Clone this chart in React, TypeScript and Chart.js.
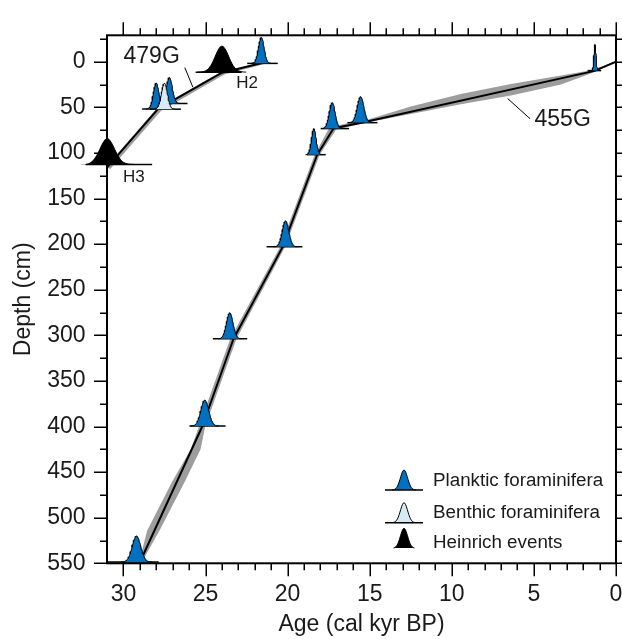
import React, { useEffect, useRef } from "react";
import { Chart, registerables } from "chart.js";

Chart.register(...registerables);

// ---------- axes ----------
const AGE_MIN = 0;
const AGE_MAX = 31;
const DEPTH_MIN = -29;
const DEPTH_MAX = 550;
const ageTicks = [0, 5, 10, 15, 20, 25, 30];
const depthTicks = [0, 50, 100, 150, 200, 250, 300, 350, 400, 450, 500, 550];
const ageMinorStep = 1;
const depthMinorStep = 25;

// ---------- core 455G age model ----------
const core455Age = [0, 1.3, 15.5, 17.2, 18.2, 20.3, 23.3, 25.2, 28.9];
const core455Depth = [0, 10, 67, 73, 102, 203, 304, 400, 545];
// uncertainty envelope (older side, top to bottom)
const band455OldAge = [0, 1.5, 3.35, 6.4, 9.45, 12.5, 15.1, 16.5, 17.45, 18.35, 20.45, 23.5, 25.4, 25.9, 27.05, 28.55, 29.0];
const band455OldDepth = [-0.5, 9.3, 15, 24.5, 35.5, 49, 63.3, 68, 72, 102, 203, 304, 400, 425, 461, 514, 545];
// uncertainty envelope (younger side, top to bottom)
const band455YoungAge = [0, 1.5, 3.35, 6.4, 9.45, 12.5, 15.1, 17.05, 18.05, 20.15, 23.12, 25.02, 25.3, 26.28, 27.8, 28.8];
const band455YoungDepth = [0.8, 12.5, 25, 37, 46.5, 57.4, 66.4, 74.5, 102, 203, 304, 400, 425, 461, 514, 546];

// ---------- core 479G age model ----------
const core479Age = [21.5, 24.0, 27.9, 31.0];
const core479Depth = [1, 12, 52, 116];
const band479OldAge = [21.5, 24.05, 27.97, 31.05];
const band479OldDepth = [0.3, 11.2, 51, 115.5];
const band479YoungAge = [21.4, 23.85, 27.72, 30.8];
const band479YoungDepth = [2.4, 14, 54, 117.5];

// ---------- calibrated dates (P planktic, B benthic, H Heinrich) ----------
const dateType = ["P", "H", "P", "P", "B", "H", "P", "P", "P", "P", "P", "P", "P", "P"];
const dateAge = [21.6, 24.0, 27.2, 28.0, 27.5, 31.0, 1.28, 15.55, 17.28, 18.4, 20.12, 23.52, 25.04, 29.2];
const dateDepth = [1.8, 11.4, 45.7, 51.8, 52, 112.6, 9.7, 66.8, 73.3, 101.9, 203, 303.8, 399.5, 548.6];
const dateSigma = [0.17, 0.41, 0.18, 0.17, 0.18, 0.45, 0.06, 0.2, 0.18, 0.14, 0.2, 0.2, 0.24, 0.26];
const dateBaseFrom = [22.46, 25.6, 28.1, 28.86, 28.4, 32.3, 1.73, 16.36, 17.99, 18.84, 21.28, 24.55, 25.98, 31.0];
const dateBaseTo = [20.6, 22.8, 26.1, 27.1, 26.5, 28.25, 0.9, 14.53, 16.26, 17.68, 19.1, 22.46, 23.78, 27.85];

// ---------- annotations ----------
const labelText = ["479G", "455G", "H2", "H3"];
const labelAge = [28.28, 3.25, 22.47, 29.37];
const labelDepth = [-5.7, 63.9, 23.4, 126.3];
const leaderAgeFrom = [26.26, 6.6];
const leaderDepthFrom = [6.4, 40.4];
const leaderAgeTo = [25.77, 5.23];
const leaderDepthTo = [27.9, 62.5];

const legendLabels = ["Planktic foraminifera", "Benthic foraminifera", "Heinrich events"];
const legendTypes = ["P", "B", "H"];

// ---------- styles ----------
const FONT = "'Liberation Sans', Arial, Helvetica, sans-serif";
const TEXT = "#1a1a1a";
const FILLS: Record<string, string> = { P: "#0070c0", B: "#d5ecf6", H: "#000000" };
const BAND = "#9d9d9d";
const BELL_H = 28.5; // glyph height in depth units
const BIG = 23;

const pts = (a: number[], d: number[]) => a.map((v, i) => ({ x: v, y: d[i] }));

function bell(age: number, depth: number, sigma: number) {
  const out: { x: number; y: number }[] = [];
  const n = 48;
  for (let k = 0; k <= n; k++) {
    const u = -3.6 + (7.2 * k) / n;
    out.push({ x: age + u * sigma, y: depth - BELL_H * Math.exp(-0.5 * u * u) });
  }
  return out;
}

const shapeFillPlugin = {
  id: "shapeFill",
  beforeDatasetDraw(chart: any, args: any) {
    const ds = chart.data.datasets[args.index];
    if (!ds.shapeFill) return;
    const p = args.meta.data;
    const ctx = chart.ctx;
    ctx.save();
    if (ds.clip !== false) {
      const a = chart.chartArea;
      ctx.beginPath();
      ctx.rect(a.left, a.top, a.right - a.left, a.bottom - a.top);
      ctx.clip();
    }
    ctx.beginPath();
    p.forEach((e: any, i: number) => (i ? ctx.lineTo(e.x, e.y) : ctx.moveTo(e.x, e.y)));
    ctx.closePath();
    ctx.fillStyle = ds.shapeFill;
    ctx.fill();
    ctx.restore();
  },
};

function glyphPath(ctx: CanvasRenderingContext2D, type: string, cx: number, by: number) {
  const h = 20;
  const s = 3.6;
  const lim = type === "H" ? 2.9 : 3.4;
  const n = 30;
  ctx.beginPath();
  for (let k = 0; k <= n; k++) {
    const u = -lim + (2 * lim * k) / n;
    const x = cx + u * s;
    const y = by - h * Math.exp(-0.5 * u * u);
    k ? ctx.lineTo(x, y) : ctx.moveTo(x, y);
  }
}

function drawGlyph(ctx: CanvasRenderingContext2D, type: string, cx: number, by: number) {
  glyphPath(ctx, type, cx, by);
  ctx.closePath();
  ctx.fillStyle = FILLS[type];
  ctx.fill();
  glyphPath(ctx, type, cx, by);
  ctx.strokeStyle = "#000";
  ctx.lineWidth = 1;
  ctx.stroke();
  if (type !== "H") {
    ctx.beginPath();
    ctx.moveTo(cx - 19, by);
    ctx.lineTo(cx + 19, by);
    ctx.lineWidth = 1.5;
    ctx.stroke();
  }
}

const decorPlugin = {
  id: "decor",
  afterDatasetsDraw(chart: any) {
    const { ctx, scales } = chart;
    const x = scales.x;
    const y = scales.y;
    ctx.save();
    ctx.strokeStyle = "#000";
    ctx.lineWidth = 1;
    leaderAgeFrom.forEach((_, i) => {
      ctx.beginPath();
      ctx.moveTo(x.getPixelForValue(leaderAgeFrom[i]), y.getPixelForValue(leaderDepthFrom[i]));
      ctx.lineTo(x.getPixelForValue(leaderAgeTo[i]), y.getPixelForValue(leaderDepthTo[i]));
      ctx.stroke();
    });
    ctx.fillStyle = TEXT;
    ctx.textAlign = "center";
    ctx.textBaseline = "middle";
    labelText.forEach((t, i) => {
      ctx.font = `${t.startsWith("H") ? 17 : BIG}px ${FONT}`;
      ctx.fillText(t, x.getPixelForValue(labelAge[i]), y.getPixelForValue(labelDepth[i]));
    });
    ctx.restore();
  },
  afterDraw(chart: any) {
    const { ctx, chartArea: a, scales } = chart;
    const x = scales.x;
    const y = scales.y;
    ctx.save();
    ctx.strokeStyle = "#000";
    ctx.lineWidth = 1.5;
    ctx.beginPath();
    for (let v = AGE_MIN; v < AGE_MAX; v += ageMinorStep) {
      const px = Math.round(x.getPixelForValue(v)) + 0.25;
      const L = ageTicks.includes(v) ? 13 : 7;
      ctx.moveTo(px, a.bottom);
      ctx.lineTo(px, a.bottom + L);
      ctx.moveTo(px, a.top);
      ctx.lineTo(px, a.top - L);
    }
    for (let v = -depthMinorStep; v <= DEPTH_MAX; v += depthMinorStep) {
      const py = Math.round(y.getPixelForValue(v)) + 0.25;
      const L = depthTicks.includes(v) ? 13 : 7;
      ctx.moveTo(a.left, py);
      ctx.lineTo(a.left - L, py);
      ctx.moveTo(a.right, py);
      ctx.lineTo(a.right + L, py);
    }
    ctx.stroke();
    ctx.lineWidth = 2;
    ctx.strokeRect(a.left, a.top, a.right - a.left, a.bottom - a.top);

    const gx = a.right - 212;
    const tx = a.right - 183;
    const base = [a.bottom - 73.3, a.bottom - 40.6, a.bottom - 15];
    const ty = [a.bottom - 82.3, a.bottom - 50.5, a.bottom - 20.5];
    legendLabels.forEach((lab, i) => {
      drawGlyph(ctx, legendTypes[i], gx, base[i]);
      ctx.fillStyle = TEXT;
      ctx.font = `18.8px ${FONT}`;
      ctx.textAlign = "left";
      ctx.textBaseline = "middle";
      ctx.fillText(lab, tx, ty[i]);
    });
    ctx.restore();
  },
};

export default function App() {
  const ref = useRef<HTMLCanvasElement | null>(null);

  useEffect(() => {
    if (!ref.current) return;
    // listed bottom-most first
    const layers: any[] = [
      {
        data: [...pts(band455OldAge, band455OldDepth), ...pts(band455YoungAge, band455YoungDepth).reverse()],
        showLine: false,
        shapeFill: BAND,
      },
      {
        data: [...pts(band479OldAge, band479OldDepth), ...pts(band479YoungAge, band479YoungDepth).reverse()],
        showLine: false,
        shapeFill: BAND,
      },
      {
        data: pts(core455Age, core455Depth),
        showLine: true,
        borderColor: "#000",
        borderWidth: 2,
        borderJoinStyle: "round",
      },
      {
        data: pts(core479Age, core479Depth),
        showLine: true,
        borderColor: "#000",
        borderWidth: 2,
        borderJoinStyle: "round",
      },
    ];
    dateAge.forEach((age, i) => {
      layers.push({
        data: [
          { x: dateBaseFrom[i], y: dateDepth[i] },
          { x: dateBaseTo[i], y: dateDepth[i] },
        ],
        showLine: true,
        borderColor: "#000",
        borderWidth: 1.5,
        clip: false,
      });
      layers.push({
        data: bell(age, dateDepth[i], dateSigma[i]),
        showLine: true,
        borderColor: "#000",
        borderWidth: 1,
        shapeFill: FILLS[dateType[i]],
        clip: false,
      });
    });
    // Chart.js paints dataset 0 last, so put the top layer first
    const datasets = layers.slice().reverse();

    const chart = new Chart(ref.current, {
      type: "scatter",
      data: { datasets },
      plugins: [shapeFillPlugin, decorPlugin],
      options: {
        animation: false,
        responsive: false,
        events: [],
        elements: { point: { radius: 0, hoverRadius: 0, borderWidth: 0 }, line: { tension: 0 } },
        layout: { padding: { top: 23.3, right: 6, bottom: 0, left: 0 } },
        plugins: { legend: { display: false }, tooltip: { enabled: false } },
        scales: {
          x: {
            type: "linear",
            reverse: true,
            min: AGE_MIN,
            max: AGE_MAX,
            afterBuildTicks: (s: any) => {
              s.ticks = ageTicks.map((v) => ({ value: v }));
            },
            afterFit: (s: any) => {
              s.height = 75.7;
            },
            grid: { display: false, drawTicks: false },
            border: { display: false },
            ticks: {
              padding: 17.9,
              color: TEXT,
              font: { family: FONT, size: BIG },
              maxRotation: 0,
              autoSkip: false,
            },
            title: {
              display: true,
              text: "Age (cal kyr BP)",
              color: TEXT,
              font: { family: FONT, size: BIG },
              padding: { top: 0, bottom: 0.2 },
            },
          },
          y: {
            type: "linear",
            reverse: true,
            min: DEPTH_MIN,
            max: DEPTH_MAX,
            afterBuildTicks: (s: any) => {
              s.ticks = depthTicks.map((v) => ({ value: v }));
            },
            afterFit: (s: any) => {
              s.width = 107;
            },
            grid: { display: false, drawTicks: false },
            border: { display: false },
            ticks: {
              padding: 21.5,
              color: TEXT,
              font: { family: FONT, size: BIG },
              autoSkip: false,
            },
            title: {
              display: true,
              text: "Depth (cm)",
              color: TEXT,
              font: { family: FONT, size: BIG },
              padding: { top: 9.7, bottom: 0 },
            },
          },
        },
      } as any,
    });
    return () => chart.destroy();
  }, []);

  return (
    <div style={{ position: "fixed", left: 0, top: 0, width: 622, height: 639, background: "#fff" }}>
      <canvas ref={ref} width={622} height={639} style={{ display: "block" }} />
    </div>
  );
}
